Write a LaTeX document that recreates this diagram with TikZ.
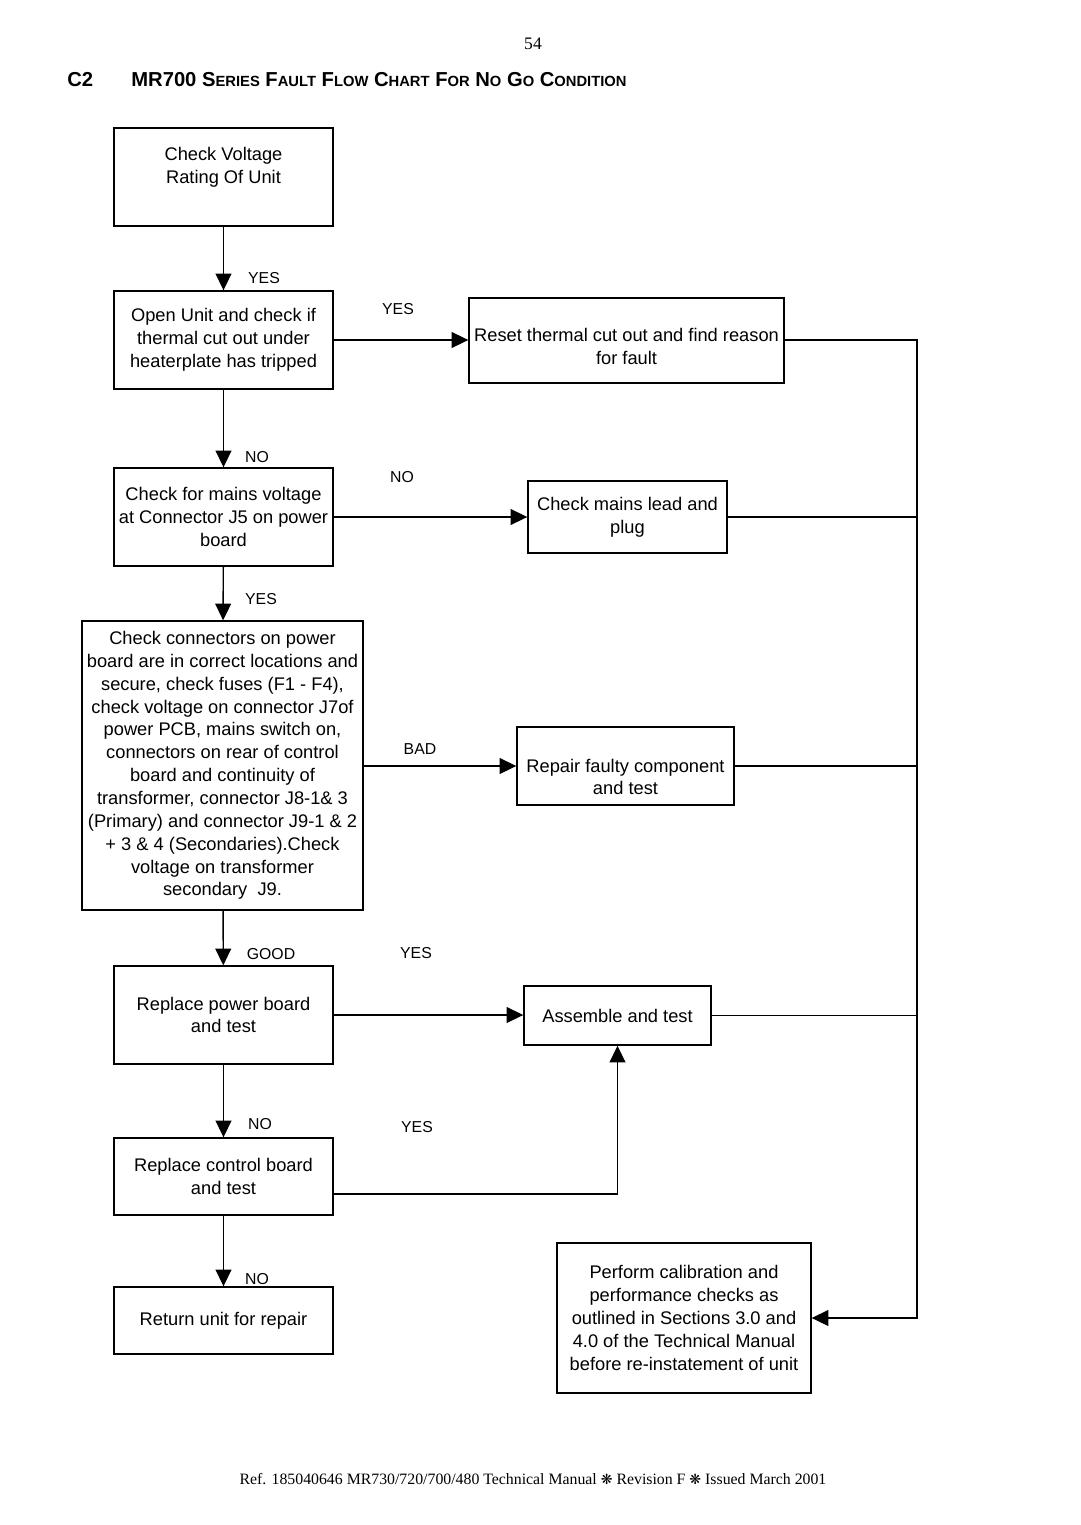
\documentclass[tikz,border=0pt]{standalone}
\usepackage{fontspec}
\setmainfont{Liberation Serif}
\newfontfamily\arial{Liberation Sans}
\newfontfamily\symf{DejaVu Sans}
\usetikzlibrary{arrows.meta}

\newcommand{\fsc}[2]{#1{\fontsize{8.4}{10}\selectfont #2}}

\tikzset{
  blk/.style={draw=black, line width=0.8pt, align=center, inner sep=0pt,
    font=\arial\fontsize{10.4}{13}\selectfont},
  lbl/.style={font=\arial\fontsize{9}{10}\selectfont, inner sep=0pt},
  go/.style={line width=0.8pt, -{Triangle[length=9.5pt,width=9pt]}},
  ln/.style={line width=0.8pt}
}

\begin{document}
\begin{tikzpicture}[x=0.02cm, y=-0.02cm]
  \useasboundingbox (0,0) rectangle (1080,1525);

  % header and footer
  \node[font=\fontsize{10}{12}\selectfont] (pg) at (533,44) {54};
  \node[anchor=base west, font=\arial\bfseries\fontsize{11.5}{14}\selectfont, inner sep=0pt] (c2) at (67,86) {C2};
  \node[anchor=base west, font=\arial\bfseries\fontsize{11.5}{14}\selectfont, inner sep=0pt] (ttl) at (131,86)
    {MR700 \fsc{S}{ERIES} \fsc{F}{AULT} \fsc{F}{LOW} \fsc{C}{HART} \fsc{F}{OR} \fsc{N}{O} \fsc{G}{O} \fsc{C}{ONDITION}};
  \node[font=\fontsize{9}{11}\selectfont] (ref) at (533,1479)
    {Ref. 185040646 MR730/720/700/480 Technical Manual {\symf\fontsize{8}{10}\selectfont ❋} Revision F {\symf\fontsize{8}{10}\selectfont ❋} Issued March 2001};

  % left column
  \node[blk, minimum width=4.38cm, minimum height=1.96cm] (b1) at (223.5,177) {Check Voltage\\Rating Of Unit\\\mbox{}};
  \node[blk, minimum width=4.38cm, minimum height=1.96cm] (b2) at (223.5,340) {Open Unit and check if\\thermal cut out under\\heaterplate has tripped};
  \node[blk, minimum width=4.38cm, minimum height=1.96cm] (b3) at (223.5,517) {Check for mains voltage\\at Connector J5 on power\\board};
  \node[blk, minimum width=5.62cm, minimum height=5.78cm] (b4) at (222.5,765.5) {Check connectors on power\\board are in correct locations and\\secure, check fuses (F1 - F4),\\check voltage on connector J7of\\power PCB, mains switch on,\\connectors on rear of control\\board and continuity of\\transformer, connector J8-1\& 3\\(Primary) and connector J9-1 \& 2\\+ 3 \& 4 (Secondaries).Check\\voltage on transformer\\secondary\ \ J9.};
  \node[blk, minimum width=4.38cm, minimum height=1.96cm] (b5) at (223.5,1015) {Replace power board\\and test};
  \node[blk, minimum width=4.38cm, minimum height=1.54cm] (b6) at (223.5,1176.5) {Replace control board\\and test};
  \node[blk, minimum width=4.38cm, minimum height=1.34cm] (b7) at (223.5,1320.5) {Return unit for repair};

  % right column
  \node[blk, minimum width=6.3cm, minimum height=1.7cm] (r1) at (626.5,340.5) {\rule{0pt}{14pt}Reset thermal cut out and find reason\\for fault};
  \node[blk, minimum width=3.98cm, minimum height=1.44cm] (r2) at (627.5,517) {Check mains lead and\\plug};
  \node[blk, minimum width=4.34cm, minimum height=1.56cm] (r3) at (625.5,766) {\rule{0pt}{20pt}Repair faulty component\\and test};
  \node[blk, minimum width=3.74cm, minimum height=1.18cm] (r4) at (617.5,1015.5) {Assemble and test};
  \node[blk, minimum width=5.08cm, minimum height=3.0cm] (r5) at (684,1318) {Perform calibration and\\performance checks as\\outlined in Sections 3.0 and\\4.0 of the Technical Manual\\before re-instatement of unit};

  % labels
  \node[lbl] (y1) at (264,278) {YES};
  \node[lbl] (y2) at (398,309) {YES};
  \node[lbl] (n1) at (257,457) {NO};
  \node[lbl] (n2) at (402,477) {NO};
  \node[lbl] (y3) at (261,599) {YES};
  \node[lbl] (bd) at (420,749) {BAD};
  \node[lbl] (gd) at (271,954) {GOOD};
  \node[lbl] (y4) at (416,953) {YES};
  \node[lbl] (n3) at (260,1124) {NO};
  \node[lbl] (y5) at (417,1127) {YES};
  \node[lbl] (n4) at (257,1279) {NO};

  % connectors
  \draw[go] (b1) -- (b2);
  \draw[go] (b2) -- (b3);
  \draw[go] (b3) -- (b4);
  \draw[go] (b4) -- (b5);
  \draw[go] (b5) -- (b6);
  \draw[go] (b6) -- (b7);
  \draw[go] (b2.east) -- (b2.east -| r1.west);
  \draw[go] (b3.east) -- (r2.west);
  \draw[go] (b4.east |- r3.west) -- (r3.west);
  \draw[go] (b5.east) -- (b5.east -| r4.west);
  \draw[go] ([yshift=-0.35cm]b6.east) -| (r4.south);

  \coordinate (bus) at (917,340);
  \draw[go] (r1.east |- bus) -- (bus) |- (r5.east);
  \draw[ln] (r2.east) -- (r2.east -| bus);
  \draw[ln] (r3.east) -- (r3.east -| bus);
  \draw[ln] (r4.east) -- (r4.east -| bus);
\end{tikzpicture}
\end{document}
